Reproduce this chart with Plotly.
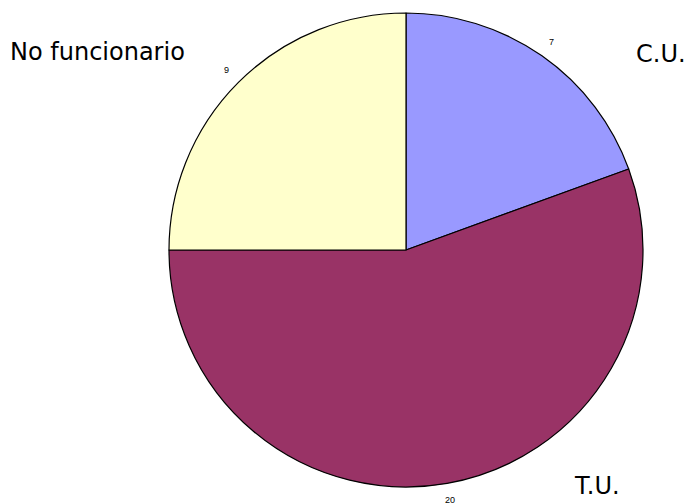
import math
import plotly.graph_objects as go

categories = ["C.U.", "T.U.", "No funcionario"]
values = [7, 20, 9]
colors = ["#9999FF", "#993366", "#FFFFCC"]

W, H = 688, 504
cx, cy, r = 406, 250, 237

fig = go.Figure(go.Pie(
    labels=categories,
    values=values,
    sort=False,
    direction="clockwise",
    rotation=0,
    marker=dict(colors=colors, line=dict(color="#000000", width=1.2)),
    textinfo="none",
    hoverinfo="label+value+percent",
    showlegend=False,
    domain=dict(x=[(cx - r) / W, (cx + r) / W], y=[(H - cy - r) / H, (H - cy + r) / H]),
))

# value labels placed just outside each slice at its mid-angle
total = sum(values)
cum = 0
label_r = r + 17
for v in values:
    mid = (cum + v / 2) / total * 2 * math.pi
    cum += v
    px = cx + label_r * math.sin(mid)
    py = cy - label_r * math.cos(mid)
    fig.add_annotation(
        x=px / W, y=1 - py / H, xref="paper", yref="paper",
        text=str(v), showarrow=False, xanchor="center", yanchor="middle",
        font=dict(family="Liberation Sans, Arial", size=9, color="#000000"),
    )

label_pos = {"C.U.": (661, 54), "T.U.": (597, 486), "No funcionario": (97, 52)}
for name in categories:
    x, y = label_pos[name]
    fig.add_annotation(
        x=x / W, y=1 - y / H, xref="paper", yref="paper",
        text=name, showarrow=False, xanchor="center", yanchor="middle",
        font=dict(family="DejaVu Sans, Verdana", size=24, color="#000000"),
    )

fig.update_layout(
    width=W, height=H,
    margin=dict(l=0, r=0, t=0, b=0),
    paper_bgcolor="#FFFFFF",
    plot_bgcolor="#FFFFFF",
)

fig.write_html(
    "out.html",
    config={"displayModeBar": False},
    post_script="document.body.style.margin='0';document.body.style.overflow='hidden';",
)
